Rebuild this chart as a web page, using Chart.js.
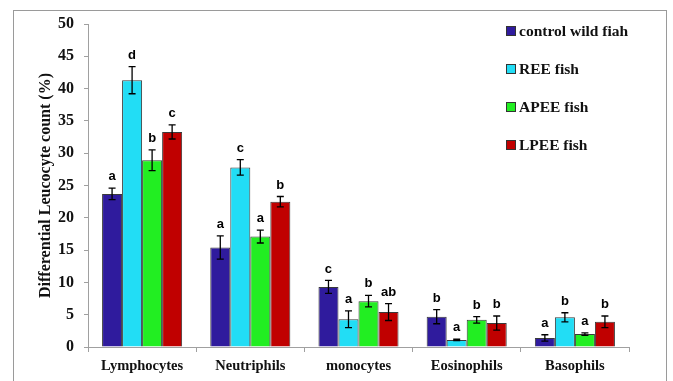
<!DOCTYPE html>
<html>
<head>
<meta charset="utf-8">
<script src="https://cdn.jsdelivr.net/npm/chart.js@4/dist/chart.umd.min.js"></script>
<style>
  html, body { margin: 0; padding: 0; background: #fff; }
  #wrap { width: 673px; height: 381px; position: relative; }
</style>
</head>
<body>
<div id="wrap"><canvas id="c" width="673" height="381"></canvas></div>
<script>
// Leucocyte types on the x axis
const categories = ['Lymphocytes', 'Neutriphils', 'monocytes', 'Eosinophils', 'Basophils'];

// Group names and fills
const seriesNames = ['control wild fiah', 'REE fish', 'APEE fish', 'LPEE fish'];
const seriesColors = ['#2F1B9D', '#22DDF5', '#22EE22', '#C00000'];

// Mean percentages per group
const controlValues = [23.7, 15.4, 9.3, 4.7, 1.4];
const reeValues     = [41.3, 27.8, 4.3, 1.1, 4.6];
const apeeValues    = [28.9, 17.1, 7.1, 4.2, 2.0];
const lpeeValues    = [33.3, 22.5, 5.4, 3.7, 3.9];

// Standard errors per group
const controlErrors = [0.9, 1.8, 1.0, 1.1, 0.5];
const reeErrors     = [2.1, 1.2, 1.3, 0.1, 0.7];
const apeeErrors    = [1.6, 1.0, 0.9, 0.5, 0.2];
const lpeeErrors    = [1.1, 0.8, 1.3, 1.1, 0.9];

// Significance letters per group
const controlLetters = ['a', 'a', 'c', 'b', 'a'];
const reeLetters     = ['d', 'c', 'a', 'a', 'b'];
const apeeLetters    = ['b', 'a', 'b', 'b', 'a'];
const lpeeLetters    = ['c', 'b', 'ab', 'b', 'b'];

// Y axis range
const yMin = 0, yMax = 50, yStep = 5;

const values  = [controlValues, reeValues, apeeValues, lpeeValues];
const errors  = [controlErrors, reeErrors, apeeErrors, lpeeErrors];
const letters = [controlLetters, reeLetters, apeeLetters, lpeeLetters];

const serif = '"Liberation Serif", "Times New Roman", serif';
const sans = '"Liberation Sans", Arial, sans-serif';

// Outer frame around the figure
const framePlugin = {
  id: 'frame',
  beforeDraw(chart) {
    const ctx = chart.ctx;
    ctx.save();
    ctx.strokeStyle = '#9a9a9a';
    ctx.lineWidth = 1;
    ctx.strokeRect(13.5, 10.5, 653, 400);
    ctx.restore();
  }
};

// Error bars and significance letters above each bar
const errorPlugin = {
  id: 'errorBars',
  afterDatasetsDraw(chart) {
    const ctx = chart.ctx;
    const y = chart.scales.y;
    ctx.save();
    chart.data.datasets.forEach((ds, di) => {
      const meta = chart.getDatasetMeta(di);
      meta.data.forEach((bar, i) => {
        const v = ds.data[i];
        const e = errors[di][i];
        const x = bar.x;
        const yTop = y.getPixelForValue(v + e);
        const yBot = y.getPixelForValue(v - e);
        ctx.strokeStyle = '#000';
        ctx.lineWidth = 1.3;
        ctx.beginPath();
        ctx.moveTo(x, yTop); ctx.lineTo(x, yBot);
        ctx.moveTo(x - 3.5, yTop); ctx.lineTo(x + 3.5, yTop);
        ctx.moveTo(x - 3.5, yBot); ctx.lineTo(x + 3.5, yBot);
        ctx.stroke();
        ctx.fillStyle = '#000';
        ctx.font = 'bold 13px ' + sans;
        ctx.textAlign = 'center';
        ctx.textBaseline = 'bottom';
        ctx.fillText(letters[di][i], x, yTop - 5);
      });
    });
    ctx.restore();
  }
};

// Legend drawn inside the plot area, top right
const legendPlugin = {
  id: 'insideLegend',
  afterDraw(chart) {
    const ctx = chart.ctx;
    ctx.save();
    chart.data.datasets.forEach((ds, di) => {
      const cy = 31 + di * 38;
      ctx.fillStyle = ds.backgroundColor;
      ctx.fillRect(506, cy - 5, 10, 10);
      ctx.strokeStyle = '#333';
      ctx.lineWidth = 1;
      ctx.strokeRect(506.5, cy - 4.5, 9, 9);
      ctx.fillStyle = '#111';
      ctx.font = 'bold 15.5px ' + serif;
      ctx.textAlign = 'left';
      ctx.textBaseline = 'middle';
      ctx.fillText(ds.label, 519, cy + 1);
    });
    ctx.restore();
  }
};

new Chart(document.getElementById('c'), {
  type: 'bar',
  data: {
    labels: categories,
    datasets: seriesNames.map((name, di) => ({
      label: name,
      data: values[di],
      backgroundColor: seriesColors[di],
      borderColor: '#3a3a3a',
      borderWidth: 1,
      categoryPercentage: 0.74,
      barPercentage: 1.0
    }))
  },
  options: {
    responsive: false,
    animation: false,
    layout: { padding: { left: 13, right: 44, top: 24, bottom: 0 } },
    plugins: {
      legend: { display: false },
      tooltip: { enabled: false }
    },
    scales: {
      x: {
        offset: true,
        grid: {
          offset: true,
          drawOnChartArea: false,
          drawTicks: true,
          tickLength: 5,
          color: '#a0a0a0'
        },
        border: { color: '#a0a0a0', width: 1 },
        ticks: {
          color: '#111',
          font: { family: serif, size: 14.5, weight: 'bold' },
          padding: 6,
          maxRotation: 0
        },
        afterFit(s) { s.height = 34; }
      },
      y: {
        min: yMin,
        max: yMax,
        grid: {
          drawOnChartArea: false,
          drawTicks: true,
          tickLength: 4,
          color: '#a0a0a0'
        },
        border: { color: '#a0a0a0', width: 1 },
        ticks: {
          stepSize: yStep,
          color: '#111',
          font: { family: serif, size: 16, weight: 'bold' },
          padding: 10
        },
        title: {
          display: true,
          text: 'Differential Leucocyte count (%)',
          color: '#111',
          font: { family: serif, size: 16, weight: 'bold' },
          padding: { top: 23, bottom: 0 }
        },
        afterFit(s) { s.width = 75; }
      }
    }
  },
  plugins: [framePlugin, errorPlugin, legendPlugin]
});
</script>
</body>
</html>
